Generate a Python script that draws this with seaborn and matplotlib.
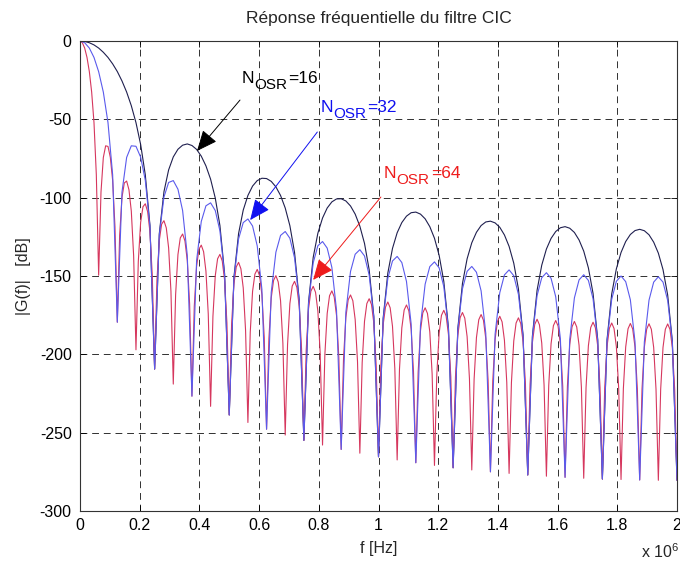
import numpy as np
import seaborn as sns
import matplotlib
matplotlib.use("Agg")
import matplotlib.pyplot as plt

# frequency axis in MHz (axis shows "x 10^6")
f_coarse = np.linspace(0, 2, 129)  # grid used for N_OSR = 16 and 32
f_fine = np.linspace(0, 2, 257)    # grid used for N_OSR = 64

# |G(f)| in dB
g16 = [0, -0.3, -1.1, -2.5, -4.5, -7.2, -10.5, -14.6, -19.5, -25.5, -32.6, -41.3, -52.1, -66.0, -85.4, -117.6,
       -209.4, -123.0, -96.2, -82.3, -74.0, -69.1, -66.5, -65.7, -66.7, -69.2, -73.5, -79.7, -88.2, -100.2, -117.8, -148.4,
       -238.7, -150.9, -122.9, -107.9, -98.6, -92.6, -89.1, -87.6, -87.8, -89.6, -93.1, -98.6, -106.6, -117.9, -135.0, -165.0,
       -254.9, -166.6, -138.1, -122.7, -113.0, -106.6, -102.7, -100.8, -100.7, -102.1, -105.3, -110.5, -118.2, -129.2, -146.0, -175.8,
       -265.4, -176.9, -148.1, -132.4, -122.4, -115.9, -111.8, -109.6, -109.2, -110.5, -113.5, -118.5, -125.9, -136.8, -153.4, -183.0,
       -272.4, -183.7, -154.8, -139.0, -128.8, -122.1, -117.8, -115.5, -115.0, -116.1, -118.9, -123.8, -131.1, -141.8, -158.2, -187.7,
       -277.0, -188.2, -159.1, -143.1, -132.8, -126.0, -121.6, -119.2, -118.5, -119.5, -122.2, -127.0, -134.1, -144.8, -161.1, -190.4,
       -279.6, -190.6, -161.5, -145.4, -135.0, -128.0, -123.5, -121.0, -120.2, -121.1, -123.7, -128.4, -135.4, -145.9, -162.1, -191.4,
       -280.4]

g32 = [0, -1.1, -4.5, -10.5, -19.6, -32.6, -52.1, -85.4,
       -179.5, -96.5, -74.3, -66.9, -67.2, -74.1, -88.9, -118.5,
       -209.4, -123.9, -99.6, -90.3, -89.1, -94.6, -108.2, -136.7,
       -226.7, -140.2, -115.2, -105.2, -103.3, -108.2, -121.2, -149.2,
       -238.7, -151.8, -126.3, -115.9, -113.6, -118.1, -130.8, -158.5,
       -247.8, -160.5, -134.8, -124.1, -121.6, -125.9, -138.4, -165.9,
       -254.9, -167.5, -141.6, -130.7, -128.0, -132.2, -144.5, -171.8,
       -260.7, -173.1, -147.1, -136.1, -133.2, -137.2, -149.4, -176.6,
       -265.4, -177.7, -151.5, -140.4, -137.5, -141.4, -153.5, -180.6,
       -269.2, -181.5, -155.2, -144.0, -141.0, -144.8, -156.8, -183.8,
       -272.4, -184.6, -158.2, -147.0, -143.9, -147.6, -159.5, -186.5,
       -275.0, -187.1, -160.7, -149.3, -146.1, -149.8, -161.7, -188.6,
       -277.0, -189.0, -162.5, -151.1, -147.9, -151.5, -163.3, -190.2,
       -278.5, -190.5, -164.0, -152.5, -149.2, -152.8, -164.5, -191.3,
       -279.6, -191.5, -164.9, -153.4, -150.0, -153.6, -165.2, -192.0,
       -280.2, -192.1, -165.4, -153.9, -150.5, -153.9, -165.6, -192.2,
       -280.4]

g64 = [0, -1.1, -4.5, -10.5, -19.5, -32.6, -52.1, -85.4,
       -149.5, -96.5, -74.4, -66.9, -67.3, -74.2, -89.0, -118.7,
       -179.5, -124.1, -99.9, -90.6, -89.4, -95.0, -108.6, -137.1,
       -197.1, -140.7, -115.8, -105.8, -103.9, -108.9, -121.9, -150.0,
       -209.4, -152.7, -127.3, -116.9, -114.7, -119.3, -132.0, -159.8,
       -219.0, -161.9, -136.3, -125.7, -123.2, -127.6, -140.1, -167.7,
       -226.7, -169.5, -143.7, -132.9, -130.3, -134.5, -146.9, -174.3,
       -233.2, -175.8, -149.9, -139.0, -136.2, -140.4, -152.6, -180.0,
       -238.7, -181.2, -155.2, -144.2, -141.3, -145.4, -157.6, -184.8,
       -243.5, -186.0, -159.8, -148.8, -145.8, -149.8, -162.0, -189.1,
       -247.8, -190.1, -164.0, -152.8, -149.8, -153.8, -165.8, -193.0,
       -251.5, -193.8, -167.6, -156.4, -153.4, -157.3, -169.3, -196.4,
       -254.9, -197.2, -170.9, -159.7, -156.6, -160.4, -172.4, -199.4,
       -257.9, -200.2, -173.9, -162.6, -159.5, -163.3, -175.2, -202.2,
       -260.7, -202.9, -176.5, -165.2, -162.1, -165.8, -177.8, -204.7,
       -263.1, -205.3, -178.9, -167.6, -164.5, -168.2, -180.1, -207.0,
       -265.4, -207.5, -181.1, -169.8, -166.6, -170.3, -182.1, -209.1,
       -267.4, -209.5, -183.1, -171.7, -168.5, -172.2, -184.0, -210.9,
       -269.2, -211.4, -184.9, -173.5, -170.3, -173.9, -185.7, -212.6,
       -270.9, -213.0, -186.5, -175.1, -171.9, -175.5, -187.3, -214.1,
       -272.4, -214.5, -188.0, -176.6, -173.3, -176.9, -188.7, -215.5,
       -273.8, -215.8, -189.3, -177.9, -174.6, -178.2, -189.9, -216.7,
       -275.0, -217.0, -190.5, -179.0, -175.7, -179.3, -191.0, -217.8,
       -276.0, -218.1, -191.5, -180.0, -176.7, -180.3, -192.0, -218.8,
       -277.0, -219.0, -192.4, -180.9, -177.6, -181.1, -192.8, -219.6,
       -277.8, -219.8, -193.2, -181.7, -178.4, -181.9, -193.6, -220.3,
       -278.5, -220.5, -193.9, -182.4, -179.0, -182.5, -194.2, -220.9,
       -279.1, -221.1, -194.5, -182.9, -179.5, -183.0, -194.7, -221.4,
       -279.6, -221.5, -194.9, -183.4, -180.0, -183.5, -195.1, -221.8,
       -279.9, -221.9, -195.3, -183.7, -180.3, -183.8, -195.4, -222.1,
       -280.2, -222.1, -195.5, -183.9, -180.5, -184.0, -195.6, -222.3,
       -280.4, -222.3, -195.6, -184.0, -180.6, -184.1, -195.7, -222.3,
       -280.4]

xticks = [0, 0.2, 0.4, 0.6, 0.8, 1.0, 1.2, 1.4, 1.6, 1.8, 2.0]
xticklabels = ["0", "0.2", "0.4", "0.6", "0.8", "1", "1.2", "1.4", "1.6", "1.8", "2"]
yticks = [-300, -250, -200, -150, -100, -50, 0]

osr_values = ["16", "32", "64"]

c16 = "#1f1f4f"
c32 = "#5a5aec"
c64 = "#d6375e"

sns.set_theme(style="white")
plt.rcParams["font.family"] = ["Liberation Sans", "DejaVu Sans"]
plt.rcParams["mathtext.fontset"] = "custom"
plt.rcParams["mathtext.rm"] = "Liberation Sans"
plt.rcParams["axes.unicode_minus"] = False

fig = plt.figure(figsize=(6.8, 5.64), dpi=100)
ax = fig.add_axes([80 / 680, 1 - 511 / 564, 597 / 680, 470 / 564])

sns.lineplot(x=f_coarse, y=g16, ax=ax, color=c16, lw=0.8, sort=False, estimator=None)
sns.lineplot(x=f_fine, y=g64, ax=ax, color=c64, lw=0.8, sort=False, estimator=None)
sns.lineplot(x=f_coarse, y=g32, ax=ax, color=c32, lw=0.8, sort=False, estimator=None)

ax.set_xlim(0, 2)
ax.set_ylim(-300, 0)
ax.set_xticks(xticks)
ax.set_xticklabels(xticklabels)
ax.set_yticks(yticks)
ax.set_xlabel("")
ax.set_ylabel("")

ax.grid(True, color="#303030", linestyle=(0, (7, 5)), linewidth=0.7)
ax.set_axisbelow(True)
for s in ax.spines.values():
    s.set_color("#333333")
    s.set_linewidth(0.8)
ax.tick_params(direction="in", length=4, width=0.6, bottom=True, left=True, top=True, right=True,
               colors="black", labelsize=11.5)
ax.tick_params(axis="x", pad=5)
ax.tick_params(axis="y", pad=6)


def osr_label(x, y, val, color):
    # "N" + lowered "OSR" + "=val"
    ax.annotate("N", xy=(x, y), xytext=(0, 0), textcoords="offset points",
                color=color, fontsize=12.5, ha="left", va="baseline")
    ax.annotate("OSR", xy=(x, y), xytext=(9.2, -4), textcoords="offset points",
                color=color, fontsize=11, ha="left", va="baseline")
    ax.annotate("=" + val, xy=(x, y), xytext=(34, 0), textcoords="offset points",
                color=color, fontsize=12.5, ha="left", va="baseline")


def arrow(head, tail, color):
    ax.annotate("", xy=head, xytext=tail,
                arrowprops=dict(arrowstyle="-|>,head_length=0.8,head_width=0.35", color=color,
                                lw=0.7, mutation_scale=16, shrinkA=0, shrinkB=0))


osr_label(0.540, -27, osr_values[0], "black")
arrow((0.392, -70.2), (0.536, -37.7), "black")
osr_label(0.805, -45.5, osr_values[1], "#1010f0")
arrow((0.570, -114.3), (0.795, -58.1), "#1010f0")
osr_label(1.018, -87.5, osr_values[2], "#ee1c1c")
arrow((0.781, -152.5), (1.008, -99.6), "#ee1c1c")

fig.text(378.5 / 680, 1 - 18 / 564, "Réponse fréquentielle du filtre CIC", ha="center", va="center", fontsize=12.5)
fig.text(378.5 / 680, 1 - 548 / 564, "f [Hz]", ha="center", va="center", fontsize=11.5)
fig.text(24 / 680, 1 - 276 / 564, "|G(f)|   [dB]", ha="center", va="center", rotation=90, fontsize=11.5)
fig.text(641 / 680, 1 - 552 / 564, "x 10$^{6}$", ha="left", va="center", fontsize=11.5)

fig.savefig("out.png", dpi=100, facecolor="white")
